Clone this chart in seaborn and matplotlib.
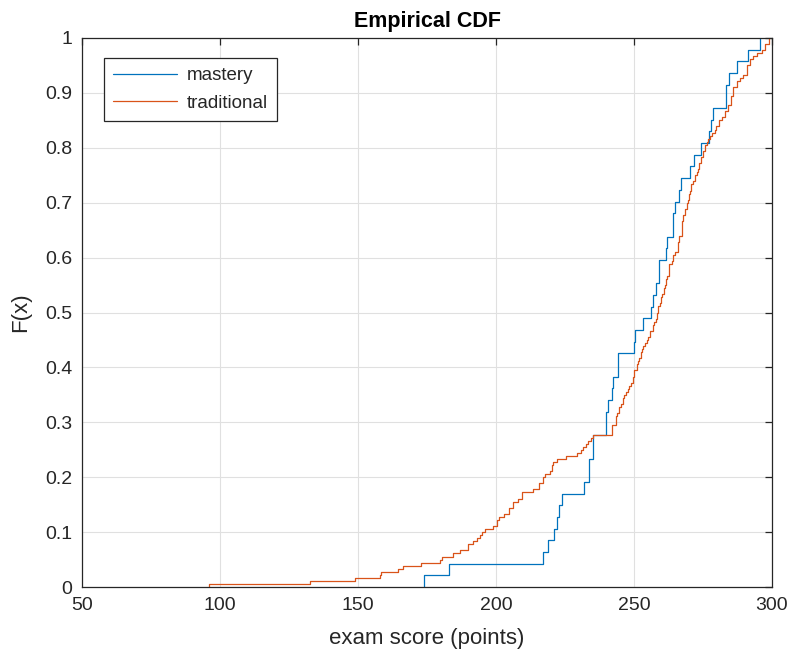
import numpy as np
import pandas as pd
import matplotlib
matplotlib.use("Agg")
import matplotlib.pyplot as plt
import seaborn as sns

# ---- data (exam scores) ----
mastery = [
    174.0, 183.0, 217.0, 219.0, 221.0, 222.0, 223.0, 224.0, 232.0, 233.7,
    233.7, 235.3, 235.3, 239.7, 239.7, 240.4, 242.2, 242.5, 244.3, 244.3,
    250.0, 250.5, 253.1, 256.2, 257.0, 258.0, 259.2, 259.2, 261.5, 261.9,
    264.2, 264.2, 265.0, 266.3, 266.9, 270.3, 271.9, 274.4, 277.0, 278.0,
    278.5, 283.3, 283.3, 284.5, 287.2, 291.4, 295.6,
]

traditional = [
    96.1, 132.5, 148.9, 158.0, 158.5, 164.6, 166.2, 172.7, 179.7, 180.5,
    184.3, 187.0, 190.0, 190.0, 191.8, 193.0, 194.2, 195.0, 196.0, 199.0,
    200.2, 200.2, 201.0, 202.9, 204.8, 204.8, 206.3, 206.3, 208.0, 209.5,
    209.5, 213.5, 215.5, 215.5, 216.9, 216.9, 217.7, 219.6, 220.2, 220.2,
    220.8, 222.0, 225.4, 229.2, 230.8, 231.6, 232.6, 233.4, 234.4, 235.3,
    242.2, 242.2, 242.2, 243.3, 243.3, 243.3, 244.0, 244.6, 244.6, 245.3,
    245.9, 245.9, 246.5, 247.1, 247.7, 248.3, 248.9, 249.5, 249.5, 250.1,
    250.1, 251.0, 251.0, 251.3, 251.9, 252.5, 252.5, 253.0, 253.4, 254.0,
    254.6, 255.2, 255.8, 255.8, 256.8, 256.8, 257.4, 258.0, 258.5, 258.5,
    258.8, 258.8, 259.4, 259.7, 259.7, 260.2, 260.8, 260.8, 261.2, 261.6,
    261.6, 262.1, 262.5, 262.8, 262.8, 262.8, 263.6, 264.2, 264.2, 264.9,
    265.8, 265.8, 265.8, 266.4, 266.4, 267.3, 267.3, 267.3, 267.3, 267.3,
    267.9, 267.9, 268.5, 268.5, 269.1, 269.1, 269.5, 270.1, 270.1, 270.3,
    270.7, 270.7, 271.5, 272.1, 272.1, 272.7, 273.3, 273.7, 273.7, 274.3,
    274.3, 274.9, 275.1, 275.7, 275.7, 276.3, 276.9, 277.5, 278.1, 279.3,
    279.8, 280.8, 280.8, 281.8, 283.0, 283.0, 284.2, 284.2, 285.0, 285.0,
    285.0, 286.0, 286.0, 286.0, 287.2, 287.2, 288.5, 289.6, 290.8, 290.8,
    290.8, 292.0, 292.0, 293.0, 294.4, 296.2, 297.5, 297.5, 299.0, 299.0,
]

group_names = ["mastery", "traditional"]
group_colors = ["#0072BD", "#D95319"]
x_ticks = [50, 100, 150, 200, 250, 300]
y_ticks = [0, 0.1, 0.2, 0.3, 0.4, 0.5, 0.6, 0.7, 0.8, 0.9, 1]
y_tick_labels = ["0", "0.1", "0.2", "0.3", "0.4", "0.5", "0.6", "0.7", "0.8", "0.9", "1"]

sns.set_theme(style="white")
plt.rcParams["font.family"] = ["Liberation Sans", "DejaVu Sans"]

ink = "#262626"
fig = plt.figure(figsize=(7.98, 6.66), dpi=100)
ax = fig.add_axes([82 / 798, 79 / 666, 690 / 798, 549 / 666])

for name, vals, col in zip(group_names, [mastery, traditional], group_colors):
    sns.ecdfplot(x=vals, ax=ax, color=col, linewidth=0.9, label=name)

ax.set_xlim(50, 300)
ax.set_ylim(0, 1)
ax.set_xticks(x_ticks)
ax.set_yticks(y_ticks)
ax.set_yticklabels(y_tick_labels)
ax.grid(True, color="#e0e0e0", linewidth=0.8)
ax.set_axisbelow(True)
for sp in ax.spines.values():
    sp.set_visible(True)
    sp.set_color(ink)
    sp.set_linewidth(0.9)
ax.tick_params(axis="both", which="both", direction="in", length=5, width=0.9,
               colors=ink, labelsize=14, top=True, right=True, pad=7)

ax.set_xlabel("exam score (points)", fontsize=16, color=ink, labelpad=10)
ax.set_ylabel("F(x)", fontsize=16, color=ink, labelpad=10)
ax.set_title("Empirical CDF", fontsize=15.5, fontweight="bold", color="black", pad=8)

leg = ax.legend(loc="upper left", bbox_to_anchor=(0.032, 0.964), borderaxespad=0,
                fontsize=13.5, frameon=True, fancybox=False, framealpha=1,
                edgecolor=ink, handlelength=3.4, borderpad=0.5, labelspacing=0.55,
                handletextpad=0.5)
leg.get_frame().set_linewidth(0.9)
for t in leg.get_texts():
    t.set_color(ink)

fig.savefig("out.png", dpi=100)
